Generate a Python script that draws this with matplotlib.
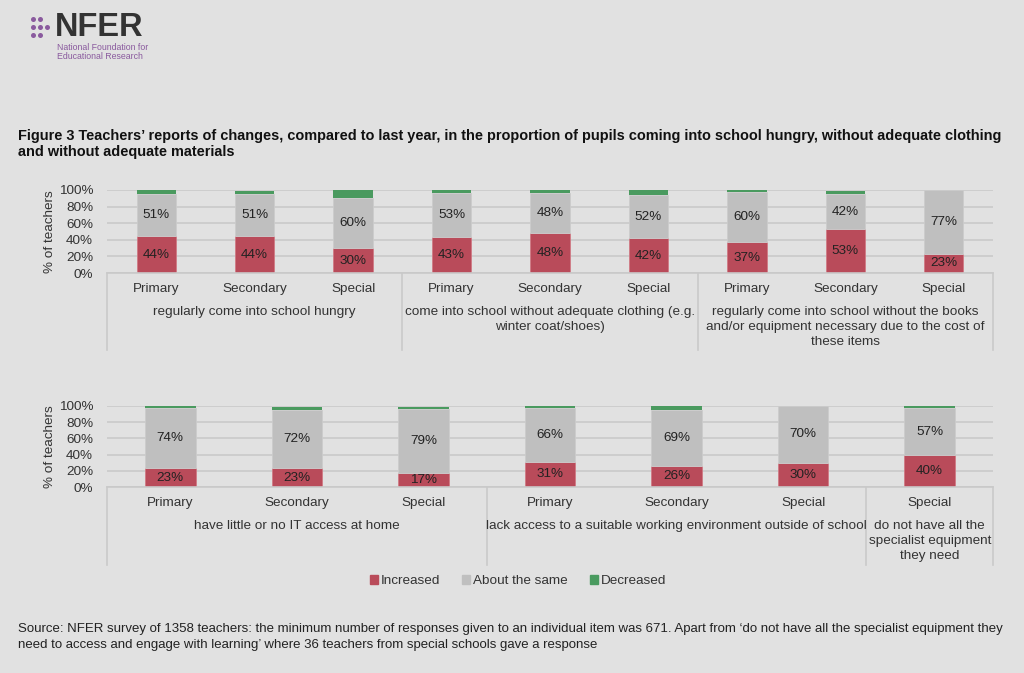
import matplotlib.pyplot as plt
from matplotlib.lines import Line2D
from matplotlib.patches import Rectangle

plt.rcParams['font.family'] = ['Liberation Sans', 'DejaVu Sans']

# --- data ---
top_phases = ["Primary", "Secondary", "Special",
              "Primary", "Secondary", "Special",
              "Primary", "Secondary", "Special"]
top_groups = ["regularly come into school hungry",
              "come into school without adequate clothing (e.g.\nwinter coat/shoes)",
              "regularly come into school without the books\nand/or equipment necessary due to the cost of\nthese items"]
top_group_sizes = [3, 3, 3]
top_increased = [44, 44, 30, 43, 48, 42, 37, 53, 23]
top_same = [51, 51, 60, 53, 48, 52, 60, 42, 77]
top_decreased = [5, 4, 10, 4, 4, 6, 3, 4, 0]

bot_phases = ["Primary", "Secondary", "Special",
              "Primary", "Secondary", "Special", "Special"]
bot_groups = ["have little or no IT access at home",
              "lack access to a suitable working environment outside of school",
              "do not have all the\nspecialist equipment\nthey need"]
bot_group_sizes = [3, 3, 1]
bot_increased = [23, 23, 17, 31, 26, 30, 40]
bot_same = [74, 72, 79, 66, 69, 70, 57]
bot_decreased = [3, 4, 3, 3, 5, 0, 3]

series_names = ["Increased", "About the same", "Decreased"]
colors = ["#b94b5a", "#bfbfbf", "#4a9a5f"]

BG = "#e1e1e1"
GRID = "#c9c9c9"
TXT = "#333333"
FS = 9.7

fig = plt.figure(figsize=(10.24, 6.73), dpi=100, facecolor=BG)


def panel(rect, phases, groups, sizes, inc, same, dec, sep_depth, line_dy):
    ax = fig.add_axes(rect, facecolor=BG)
    n = len(phases)
    x = list(range(n))
    ax.bar(x, inc, width=0.4, color=colors[0], edgecolor="#d07a85", linewidth=0.6, label=series_names[0])
    ax.bar(x, same, width=0.4, bottom=inc, color=colors[1], edgecolor="#cccccc", linewidth=0.6, label=series_names[1])
    bot2 = [a + b for a, b in zip(inc, same)]
    ax.bar(x, dec, width=0.4, bottom=bot2, color=colors[2], linewidth=0, label=series_names[2])
    for i in range(n):
        ax.text(x[i], inc[i] / 2, f"{inc[i]}%", ha="center", va="center", fontsize=FS, color="#222222")
        ax.text(x[i], inc[i] + same[i] / 2, f"{same[i]}%", ha="center", va="center", fontsize=FS, color="#222222")
    ax.set_xlim(-0.5, n - 0.5)
    ax.set_ylim(0, 100)
    ax.set_yticks([0, 20, 40, 60, 80, 100])
    ax.set_yticklabels([f"{v}%" for v in [0, 20, 40, 60, 80, 100]], fontsize=FS, color=TXT)
    ax.tick_params(axis="y", length=0, pad=10)
    ax.set_xticks([])
    ax.yaxis.grid(True, color=GRID, linewidth=1.2)
    ax.set_axisbelow(True)
    for s in ax.spines.values():
        s.set_visible(False)
    ax.axhline(0, color=GRID, linewidth=1.2, clip_on=False)
    ax.set_ylabel("% of teachers", fontsize=FS, color=TXT)
    ax.yaxis.set_label_coords(-51 / 886, 0.5)

    # phase labels
    for i in range(n):
        ax.text(x[i], -line_dy, phases[i], ha="center", va="center", fontsize=FS, color=TXT,
                transform=ax.get_xaxis_transform(), clip_on=False)
    # group labels and separators
    start = 0
    edges = [-0.5]
    for g, sz in zip(groups, sizes):
        mid = start + (sz - 1) / 2
        ax.text(mid, -2.08 * line_dy, g, ha="center", va="top", fontsize=FS, color=TXT,
                linespacing=1.33, transform=ax.get_xaxis_transform(), clip_on=False)
        start += sz
        edges.append(start - 0.5)
    for e in edges:
        ax.add_line(Line2D([e, e], [0, -sep_depth], transform=ax.get_xaxis_transform(),
                           color=GRID, linewidth=1.2, clip_on=False))
    return ax


ax1 = panel([107 / 1024, 1 - 273 / 673, 886 / 1024, 83 / 673], top_phases, top_groups, top_group_sizes,
            top_increased, top_same, top_decreased, sep_depth=77 / 83, line_dy=16 / 83)
ax2 = panel([107 / 1024, 1 - 487 / 673, 886 / 1024, 81 / 673], bot_phases, bot_groups, bot_group_sizes,
            bot_increased, bot_same, bot_decreased, sep_depth=78 / 81, line_dy=16 / 81)

# legend
handles = [Rectangle((0, 0), 1, 1, color=c) for c in colors]
fig.legend(handles, series_names, loc="center", bbox_to_anchor=(518 / 1024, 1 - 581 / 673), ncol=3,
           frameon=False, fontsize=FS, handlelength=0.6, handleheight=0.6, handletextpad=0.25,
           columnspacing=1.6, labelcolor=TXT)

# title
fig.text(18 / 1024, 1 - 144 / 673,
         "Figure 3 Teachers\u2019 reports of changes, compared to last year, in the proportion of pupils coming into school hungry, without adequate clothing\nand without adequate materials",
         ha="left", va="center", fontsize=10.45, fontweight="bold", color="#111111", linespacing=1.2)

# source note
fig.text(18 / 1024, 1 - 637 / 673,
         "Source: NFER survey of 1358 teachers: the minimum number of responses given to an individual item was 671. Apart from \u2018do not have all the specialist equipment they\nneed to access and engage with learning\u2019 where 36 teachers from special schools gave a response",
         ha="left", va="center", fontsize=9.55, color="#222222", linespacing=1.35)

# logo
logo = fig.add_axes([0, 1 - 70 / 673, 250 / 1024, 70 / 673])
logo.set_xlim(0, 250)
logo.set_ylim(70, 0)
logo.axis("off")
dot_x = [33, 40, 33, 40, 47, 33, 40]
dot_y = [19, 19, 27, 27, 27, 35, 35]
logo.scatter(dot_x, dot_y, s=13, color="#8a5a9e", zorder=3, linewidths=0)
logo.text(55, 28, "NFER", fontsize=23.5, fontweight="bold", color="#333333", va="center", ha="left")
logo.text(57, 52, "National Foundation for\nEducational Research", fontsize=6.3, color="#8a5a9e",
          va="center", ha="left", linespacing=1.1)

fig.savefig("out.png", dpi=100, facecolor=BG)
